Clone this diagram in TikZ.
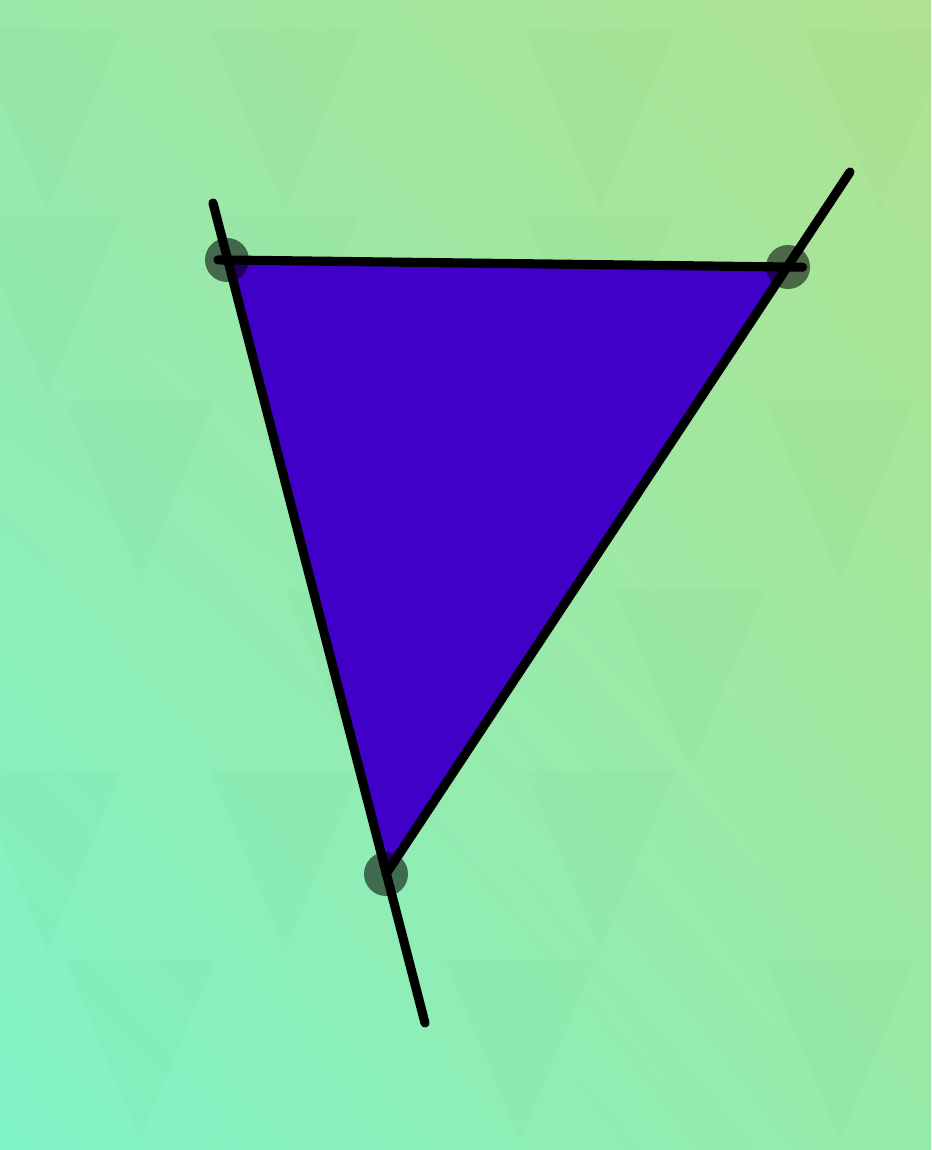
\documentclass[tikz,border=0pt]{standalone}
\usetikzlibrary{calc,shadings}

\definecolor{bgtl}{HTML}{9AE8A8}
\definecolor{bgtr}{HTML}{B0E290}
\definecolor{bgbl}{HTML}{80F4C8}
\definecolor{bgbr}{HTML}{98EAA8}
\definecolor{trifill}{HTML}{4000C8}

\begin{document}
\begin{tikzpicture}[x=0.02cm, y=-0.02cm, line cap=round]
  \tikzset{
    edge/.style={line width=5.2pt, black},
    vertex/.style={fill=black, opacity=0.55},
    motif/.style={fill=black!60!green, opacity=0.015},
  }
  % background
  \shade[upper left=bgtl, upper right=bgtr, lower left=bgbl, lower right=bgbr]
    (0,0) rectangle (931,1150);
  \useasboundingbox (0,0) rectangle (931,1150);
  % faint triangle pattern
  \foreach \x/\y in {47/30, 285/30, 600/30, 880/30, 47/215, 285/215, 600/215,
                     840/400, 140/400, 360/590, 690/590, 47/770, 285/770,
                     600/770, 840/960, 140/960, 520/960}
    \fill[motif] (\x-75,\y) -- (\x+75,\y) -- (\x,\y+180) -- cycle;
  % triangle
  \coordinate (A) at (227,260);
  \coordinate (B) at (788,267);
  \coordinate (C) at (386,874);
  \coordinate (Aend) at (213,203);
  \coordinate (Cend) at (425,1023);
  \coordinate (Bend) at (850,172);
  \fill[trifill] (A) -- (B) -- (C) -- cycle;
  \foreach \p in {A,B,C}
    \fill[vertex] (\p) circle (22);
  \draw[edge] ($(A)!-0.016!(B)$) -- ($(B)!-0.026!(A)$);
  \draw[edge] (Aend) -- (Cend);
  \draw[edge] (C) -- (Bend);
\end{tikzpicture}
\end{document}
